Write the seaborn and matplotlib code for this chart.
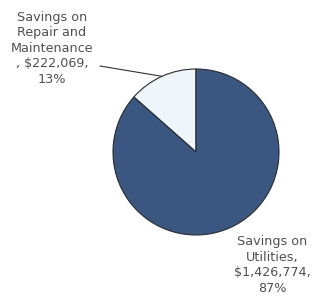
import matplotlib
matplotlib.use("Agg")
import matplotlib.pyplot as plt
import numpy as np
import seaborn as sns

categories = ["Savings on Repair and Maintenance", "Savings on Utilities"]
values = [222069, 1426774]
label_lines = [
    ["Savings on", "Repair and", "Maintenance", ", $222,069,", "13%"],
    ["Savings on", "Utilities,", "$1,426,774,", "87%"],
]
colors = ["#EEF6FB", "#3A5782"]

sns.set_theme(style="white")
plt.rcParams["font.family"] = ["DejaVu Sans"]

fig = plt.figure(figsize=(3.16, 3.0), dpi=100)
ax = fig.add_axes([0, 0, 1, 1])

wedges, _ = ax.pie(
    values,
    colors=colors,
    startangle=90,
    counterclock=True,
    radius=1.0,
    wedgeprops=dict(edgecolor="#2b2b2b", linewidth=0.8),
)

# pixel layout: center (196, 152), radius 83 px
ax.set_xlim(-196 / 83, 120 / 83)
ax.set_ylim(-148 / 83, 152 / 83)
ax.set_aspect("auto")
ax.axis("off")

text_color = "#505050"
ax.text(-1.735, 1.253, "\n".join(label_lines[0]), ha="center", va="center",
        fontsize=9.2, color=text_color, linespacing=1.25)
ax.text(0.916, -1.36, "\n".join(label_lines[1]), ha="center", va="center",
        fontsize=9.2, color=text_color, linespacing=1.25)

# leader line to the small slice
w = wedges[0]
mid = np.deg2rad((w.theta1 + w.theta2) / 2)
ax.plot([-1.157, np.cos(mid)], [1.036, np.sin(mid)], color="#333333", lw=0.8)

fig.savefig("out.png", dpi=100)
